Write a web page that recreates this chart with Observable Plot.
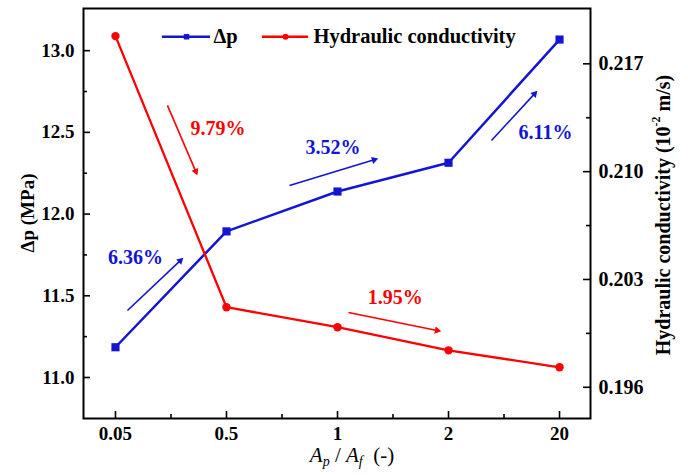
<!DOCTYPE html>
<html><head><meta charset="utf-8">
<script src="https://cdn.jsdelivr.net/npm/d3@7"></script>
<script src="https://cdn.jsdelivr.net/npm/@observablehq/plot@0.6"></script>
<style>body{margin:0;background:#fff;}</style>
</head><body><div id="chart"></div>
<script>
// ---- data ----
const categories = ["0.05", "0.5", "1", "2", "20"];
const deltaP = [11.185, 11.894, 12.138, 12.314, 13.068];          // MPa (left axis)
const hydraulic = [0.2188, 0.2012, 0.1999, 0.1984, 0.1973];       // 10^-2 m/s (right axis)
const leftTicks = [11.0, 11.5, 12.0, 12.5, 13.0];
const leftMinor = [11.25, 11.75, 12.25, 12.75];
const rightTicks = [0.196, 0.203, 0.210, 0.217];
const rightMinor = [0.1995, 0.2065, 0.2135];
// annotations (x in category index units, y in Δp units)
const annLabels = ["9.79%", "6.36%", "3.52%", "1.95%", "6.11%"];
const annSeries = ["h", "p", "p", "h", "p"];
const annX = [0.923, 0.18, 1.96, 2.52, 3.874];
const annY = [12.524, 11.734, 12.408, 11.49, 12.499];
const arrX1 = [0.468, 0.108, 1.568, 2.099, 3.387];
const arrY1 = [12.665, 11.41, 12.175, 11.398, 12.450];
const arrX2 = [0.739, 0.613, 2.369, 2.937, 3.802];
const arrY2 = [12.236, 11.734, 12.340, 11.282, 12.756];

// ---- helpers ----
const BLUE = "#1414d4", RED = "#ff0000";
const FONT = "'Liberation Serif', 'Times New Roman', serif";
const b = 94.26, a = -7.535;               // right-axis -> left-axis mapping
const toLeft = h => a + b * h;
const fromLeft = v => (v - a) / b;

const W = 688, H = 475, mL = 83, mR = 98, mT = 8, mB = 57;
const pw = W - mL - mR, ph = H - mT - mB;
const xDom = [-0.288, 4.279], yDom = [10.749, 13.258];
const sx = pw / (xDom[1] - xDom[0]), sy = ph / (yDom[1] - yDom[0]);

const idx = categories.map((_, i) => i);
const pRows = idx.map(i => ({x: i, y: deltaP[i]}));
const hRows = idx.map(i => ({x: i, y: toLeft(hydraulic[i])}));
const ann = annLabels.map((t, i) => {
  const dxp = (arrX2[i] - arrX1[i]) * sx, dyp = -(arrY2[i] - arrY1[i]) * sy;
  const len = Math.hypot(dxp, dyp), ux = dxp / len, uy = dyp / len;
  const back = 4.5;
  return {t, s: annSeries[i], x: annX[i], y: annY[i],
    x1: arrX1[i], y1: arrY1[i], x2: arrX2[i], y2: arrY2[i],
    hx: arrX2[i] - ux * back / sx, hy: arrY2[i] + uy * back / sy,
    rot: Math.atan2(dxp, -dyp) * 180 / Math.PI};
});
const colorOf = s => s === "p" ? BLUE : RED;

const legY = 13.085;
const legend = [
  {x1: 0.423, x2: 0.856, xm: 0.640, tx: 0.883, label: "Δp", c: BLUE, sym: "square", r: 4.5},
  {x1: 1.324, x2: 1.739, xm: 1.532, tx: 1.784, label: "Hydraulic conductivity", c: RED, sym: "circle", r: 4.2}
];

const plot = Plot.plot({
  width: W, height: H,
  marginLeft: mL, marginRight: mR, marginTop: mT, marginBottom: mB,
  style: {fontFamily: FONT, fontSize: "20px", fontWeight: "bold", background: "#fff", color: "#000"},
  x: {type: "linear", domain: xDom, axis: null},
  y: {domain: yDom, axis: null},
  marks: [
    // ticks (inward)
    Plot.tickY(leftTicks, {y: d => d, stroke: "#000", strokeWidth: 1.6, insetRight: pw - 7}),
    Plot.tickY(leftMinor, {y: d => d, stroke: "#000", strokeWidth: 1.6, insetRight: pw - 4}),
    Plot.tickY(rightTicks.map(toLeft), {y: d => d, stroke: "#000", strokeWidth: 1.6, insetLeft: pw - 7}),
    Plot.tickY(rightMinor.map(toLeft), {y: d => d, stroke: "#000", strokeWidth: 1.6, insetLeft: pw - 4}),
    Plot.tickX(idx, {x: d => d, stroke: "#000", strokeWidth: 1.6, insetTop: ph - 7}),
    Plot.tickX(idx.slice(0, -1).map(i => i + 0.5), {x: d => d, stroke: "#000", strokeWidth: 1.6, insetTop: ph - 4}),
    Plot.frame({stroke: "#000", strokeWidth: 2}),
    // axes
    Plot.axisY(leftTicks, {anchor: "left", tickSize: 0, tickPadding: 9, tickFormat: d => d.toFixed(1), fontSize: 19}),
    Plot.axisY(rightTicks.map(toLeft), {anchor: "right", tickSize: 0, tickPadding: 8, tickFormat: d => fromLeft(d).toFixed(3), fontSize: 20}),
    Plot.axisX(idx, {anchor: "bottom", tickSize: 0, tickPadding: 8, tickFormat: i => categories[i], fontSize: 19}),
    // series
    Plot.line(pRows, {x: "x", y: "y", stroke: BLUE, strokeWidth: 2.5}),
    Plot.dot(pRows, {x: "x", y: "y", symbol: "square", r: 4.6, fill: BLUE}),
    Plot.line(hRows, {x: "x", y: "y", stroke: RED, strokeWidth: 2.3}),
    Plot.dot(hRows, {x: "x", y: "y", symbol: "circle", r: 4.2, fill: RED}),
    // annotations
    Plot.link(ann, {x1: "x1", y1: "y1", x2: "hx", y2: "hy", stroke: d => colorOf(d.s), strokeWidth: 1.6}),
    Plot.dot(ann, {x: "hx", y: "hy", symbol: "triangle2", r: 3.5, rotate: "rot", fill: d => colorOf(d.s)}),
    Plot.text(ann, {x: "x", y: "y", text: "t", fill: d => colorOf(d.s), fontSize: 20, fontWeight: "bold"}),
    // legend
    Plot.ruleY(legend, {x1: "x1", x2: "x2", y: () => legY, stroke: "c", strokeWidth: 2.5}),
    Plot.dot(legend, {x: "xm", y: () => legY, symbol: "sym", r: "r", fill: "c"}),
    Plot.text(legend, {x: "tx", y: () => legY, text: "label", textAnchor: "start", fill: "#000", fontSize: 20.5, fontWeight: "bold"})
  ]
});

// axis titles
const svg = d3.select(plot);
svg.append("text").attr("transform", "translate(27,213) rotate(-90)")
  .attr("text-anchor", "middle").attr("dominant-baseline", "central")
  .attr("font-family", FONT).attr("font-size", 19).attr("font-weight", "bold").attr("fill", "#000")
  .text("Δp (MPa)");
const rt = svg.append("text").attr("transform", "translate(663,215) rotate(-90)")
  .attr("text-anchor", "middle").attr("dominant-baseline", "central")
  .attr("font-family", FONT).attr("font-size", 20).attr("font-weight", "bold").attr("fill", "#000");
rt.append("tspan").text("Hydraulic conductivity (10");
rt.append("tspan").attr("font-size", 12).attr("baseline-shift", "super").text("-2");
rt.append("tspan").text(" m/s)");
const xt = svg.append("text").attr("x", 352).attr("y", 462)
  .attr("text-anchor", "middle")
  .attr("font-family", FONT).attr("font-size", 21).attr("font-weight", "normal").attr("fill", "#000");
xt.append("tspan").attr("font-style", "italic").text("A");
xt.append("tspan").attr("font-style", "italic").attr("font-size", 14).attr("dy", 4).text("p");
xt.append("tspan").attr("dy", -4).text(" / ");
xt.append("tspan").attr("font-style", "italic").text("A");
xt.append("tspan").attr("font-style", "italic").attr("font-size", 14).attr("dy", 4).text("f");
xt.append("tspan").attr("dy", -4).text("  (-)");

document.getElementById("chart").append(plot);
</script>
</body></html>
